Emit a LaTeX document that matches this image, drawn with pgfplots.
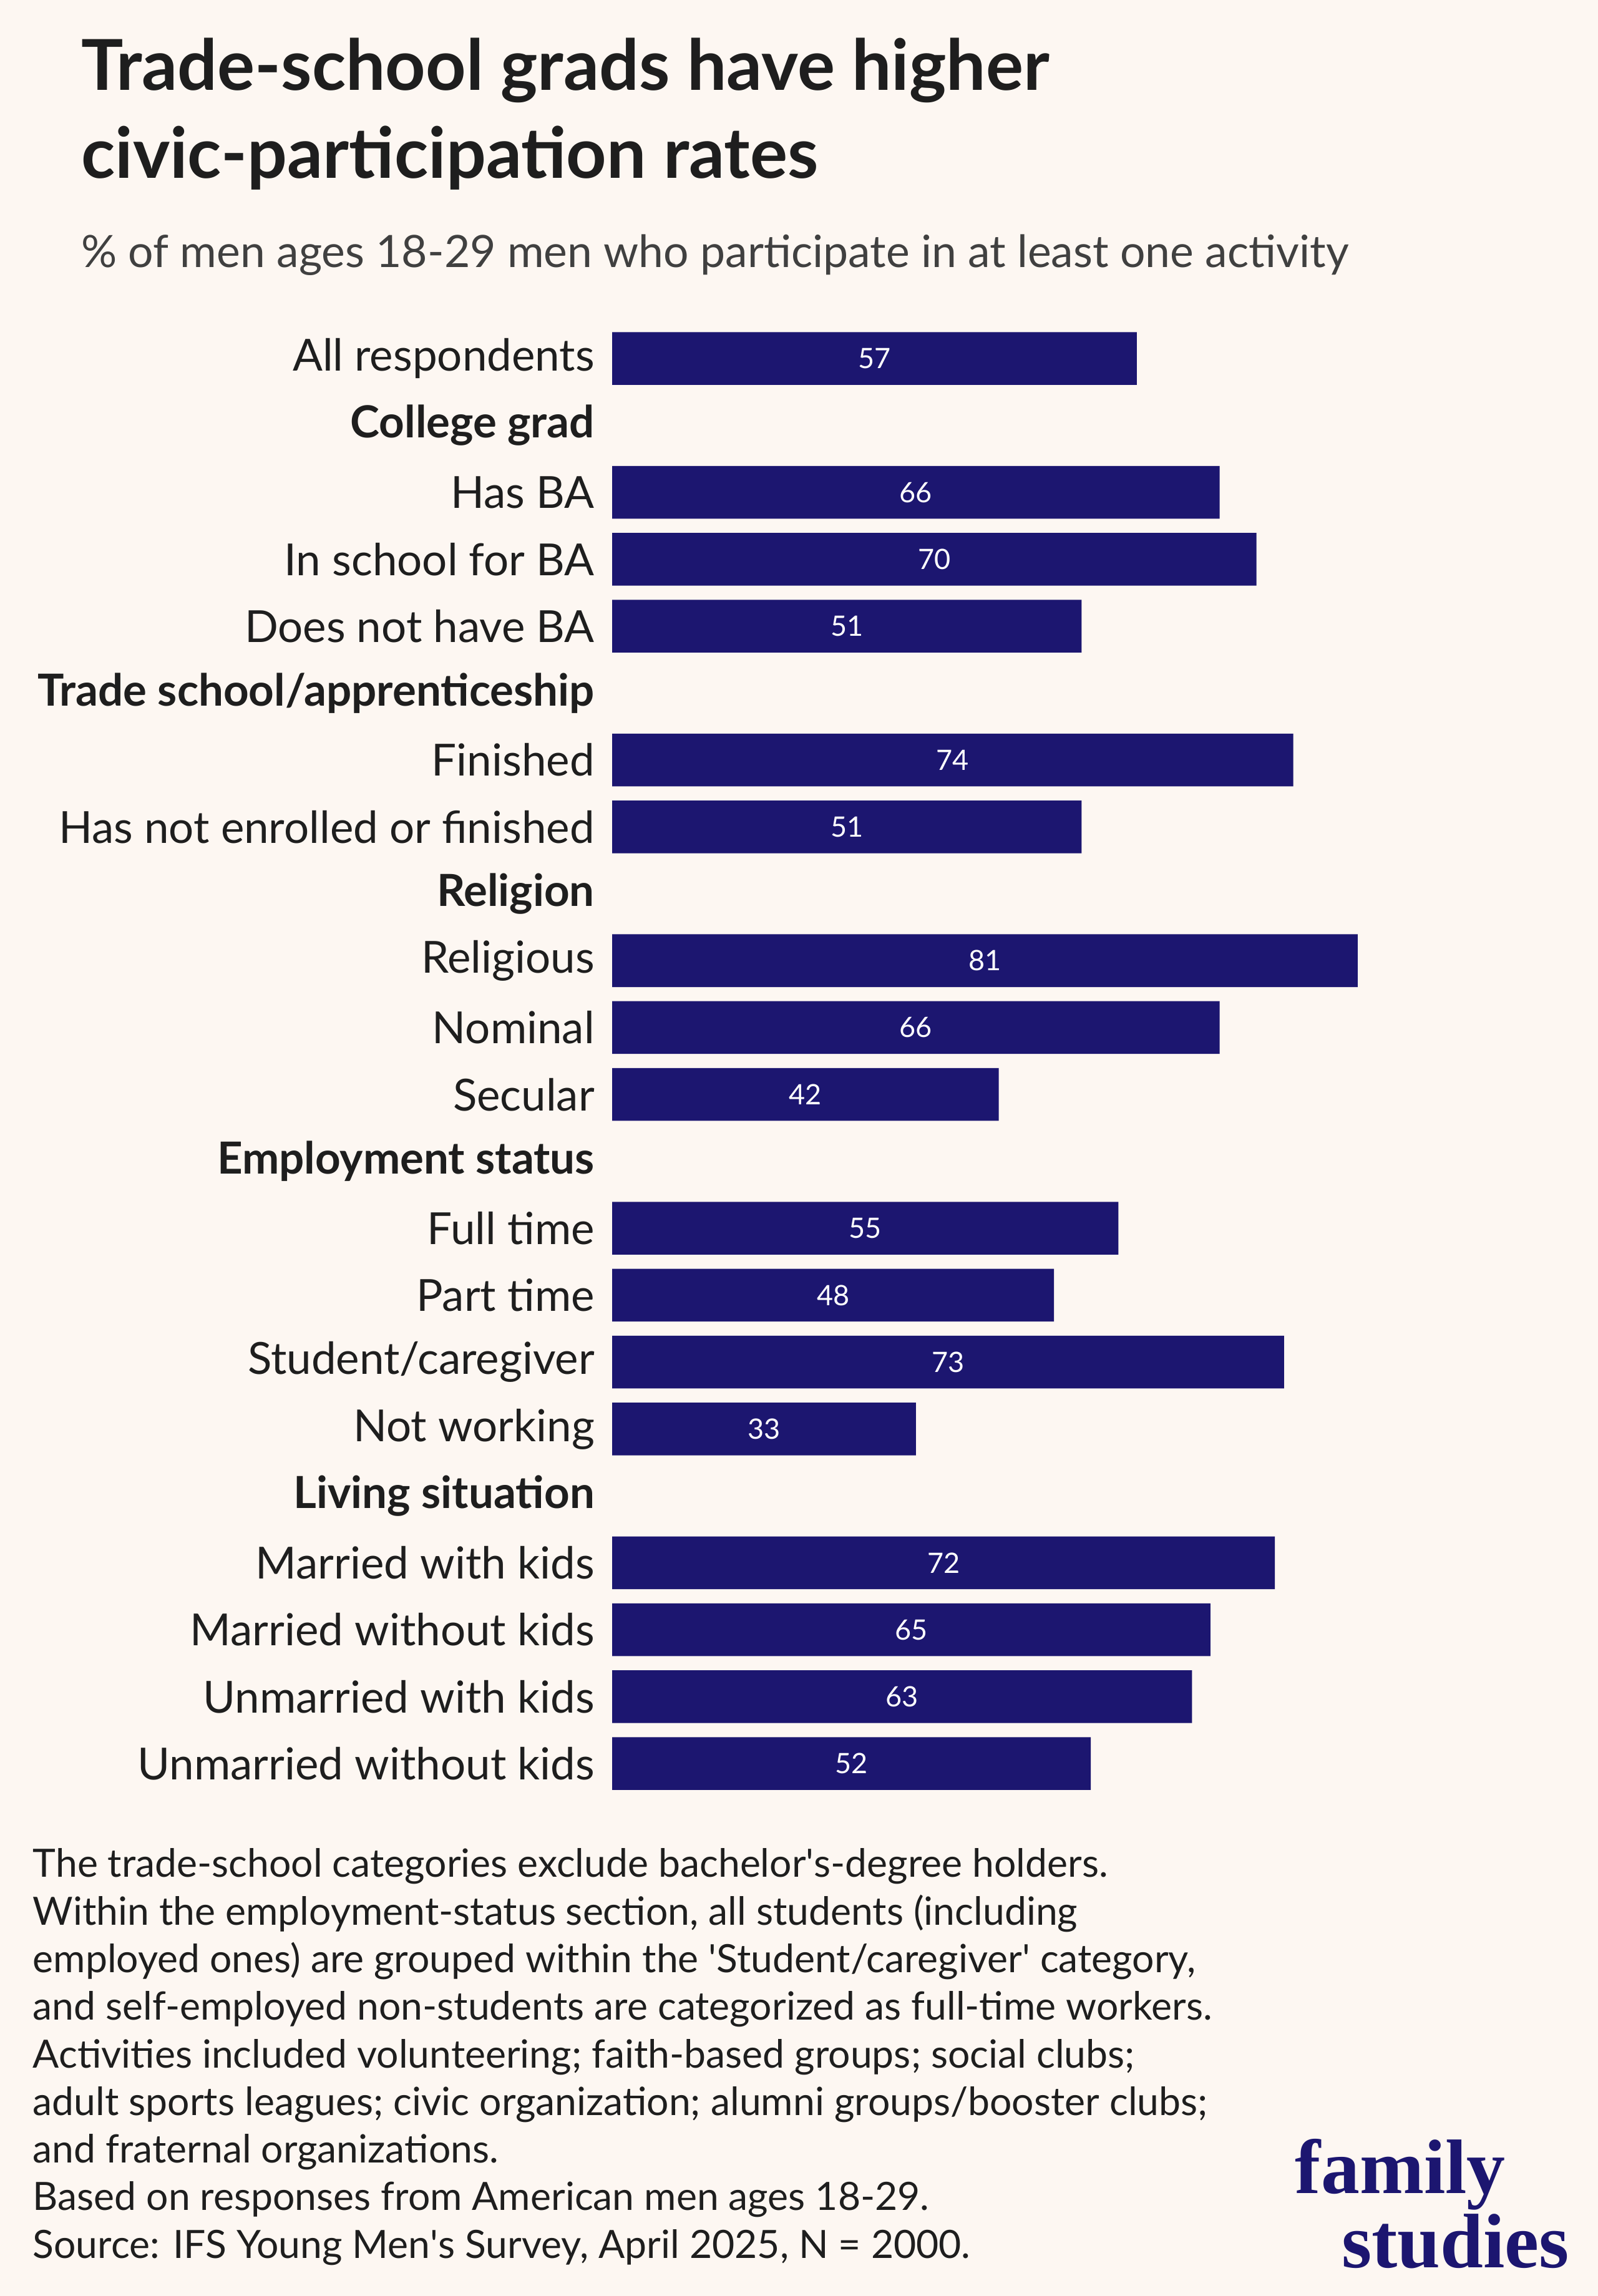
\documentclass[border=0pt]{standalone}
\usepackage{pgfplots}
\pgfplotsset{compat=1.18}
\usepackage{fontspec}
\setmainfont{Lato}
\newfontfamily\logofont{Liberation Serif}
\definecolor{bg}{HTML}{FDF7F2}
\definecolor{bar}{HTML}{1C1670}
\definecolor{txt}{HTML}{1E1E1E}
\begin{document}
\begin{tikzpicture}[x=0.014666cm,y=-0.014666cm]
\fill[bg] (0,0) rectangle (1091,1568);
\node[anchor=west,inner sep=0pt,font=\fontsize{20}{24}\selectfont\bfseries,text=txt] at (55,48) {Trade-school grads have higher};
\node[anchor=west,inner sep=0pt,font=\fontsize{20}{24}\selectfont\bfseries,text=txt] at (55,108) {civic-participation rates};
\node[anchor=west,inner sep=0pt,font=\fontsize{12.7}{15}\selectfont,text=txt!85] at (55,174) {\% of men ages 18-29 men who participate in at least one activity};
\begin{axis}[at={(6.130cm,-17.995cm)},anchor=south west,scale only axis,
 width=7.465cm,height=14.74cm,xmin=0,xmax=81,ymin=-0.5,ymax=21.5,y dir=reverse,
 axis line style={draw=none},xtick=\empty,ytick={0,...,21},major tick length=0pt,
 yticklabels={All respondents,\textbf{College grad},Has BA,In school for BA,Does not have BA,\textbf{Trade school/apprenticeship},Finished,Has not enrolled or finished,\textbf{Religion},Religious,Nominal,Secular,\textbf{Employment status},Full time,Part time,Student/caregiver,Not working,\textbf{Living situation},Married with kids,Married without kids,Unmarried with kids,Unmarried without kids},
 yticklabel style={font=\fontsize{12.6}{15}\selectfont,text=txt,xshift=-1.5pt},
 xbar,bar width=0.528cm,clip=false]
\addplot[fill=bar,draw=none] coordinates {(57,0)(66,2)(70,3)(51,4)(74,6)(51,7)(81,9)(66,10)(42,11)(55,13)(48,14)(73,15)(33,16)(72,18)(65,19)(63,20)(52,21)};
\addplot[xbar=false,only marks,mark=none,nodes near coords,point meta=explicit symbolic,
 every node near coord/.style={anchor=center,text=white,font=\fontsize{8}{10}\selectfont}]
 coordinates {(28.5,0)[57](33,2)[66](35,3)[70](25.5,4)[51](37,6)[74](25.5,7)[51](40.5,9)[81](33,10)[66](21,11)[42](27.5,13)[55](24,14)[48](36.5,15)[73](16.5,16)[33](36,18)[72](32.5,19)[65](31.5,20)[63](26,21)[52]};
\end{axis}
\node[anchor=north west,inner sep=0pt,align=left,font=\fontsize{11.1}{13.56}\selectfont,text=txt] at (22,1262) {The trade-school categories exclude bachelor\textquotesingle s-degree holders.\\Within the employment-status section, all students (including\\employed ones) are grouped within the \textquotesingle Student/caregiver\textquotesingle\ category,\\and self-employed non-students are categorized as full-time workers.\\Activities included volunteering; faith-based groups; social clubs;\\adult sports leagues; civic organization; alumni groups/booster clubs;\\and fraternal organizations.\\Based on responses from American men ages 18-29.\\Source: IFS Young Men\textquotesingle s Survey, April 2025, N = 2000.};
\node[anchor=center,align=left,font=\logofont\fontsize{22}{21}\selectfont\bfseries,text=bar] at (978,1505) {family\\\hspace*{0.6em}studies};
\end{tikzpicture}
\end{document}
